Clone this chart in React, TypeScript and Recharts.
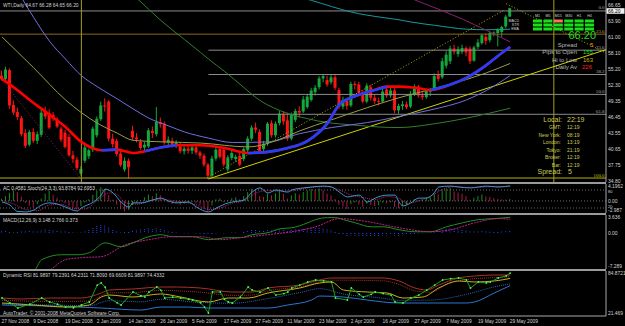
import React from 'react'
import { ComposedChart, Bar, Line, XAxis, YAxis, ReferenceLine } from 'recharts'

const FONT = '"Liberation Sans", Arial, sans-serif'
const TEXT = '#d4d4d4'
const AXIS = '#a8a8a8'
const PAD = 4
const X_DOMAIN: [number, number] = [-0.5, 152.14]

// bottom axis labels, one every 8 daily bars
const dateLabels = ['27 Nov 2008', '9 Dec 2008', '19 Dec 2008', '2 Jan 2009', '14 Jan 2009', '26 Jan 2009', '5 Feb 2009', '17 Feb 2009', '27 Feb 2009', '11 Mar 2009', '23 Mar 2009', '2 Apr 2009', '16 Apr 2009', '27 Apr 2009', '7 May 2009', '19 May 2009', '29 May 2009']

const opens = [
  54.0, 53.4, 55.0, 48.7, 47.4, 46.3, 43.6, 41.5, 43.8, 42.2,
  43.3, 47.4, 47.2, 46.9, 46.1, 44.4, 43.7, 42.9, 39.6, 38.8,
  36.3, 38.6, 39.4, 40.6, 43.2, 46.1, 48.6, 49.3, 42.6, 42.2,
  39.9, 37.0, 38.6, 44.0, 42.8, 42.0, 41.0, 41.2, 44.0, 43.4,
  45.6, 45.3, 41.9, 42.2, 41.5, 41.2, 40.3, 40.8, 40.4, 41.0,
  40.1, 39.5, 37.9, 35.9, 39.0, 40.7, 40.6, 37.0, 39.1, 38.9,
  39.5, 38.9, 40.5, 42.6, 44.6, 43.8, 40.7, 41.7, 45.4, 43.2,
  45.4, 47.1, 45.9, 42.6, 46.0, 47.6, 47.5, 48.3, 49.6, 51.0,
  51.9, 53.5, 53.2, 52.8, 53.7, 51.4, 48.4, 49.5, 48.6, 52.5,
  52.4, 50.9, 49.3, 51.9, 50.0, 49.4, 49.3, 51.5, 50.4, 51.3,
  47.7, 48.5, 48.8, 48.4, 50.6, 52.0, 50.4, 50.1, 51.2, 51.5,
  54.1, 53.7, 55.8, 56.6, 58.9, 57.9, 58.3, 59.0, 58.9, 56.7,
  59.2, 59.9, 61.0, 60.4, 61.6, 61.7, 61.9, 62.9, 64.67,
]
const highs = [
  54.9, 55.6, 55.3, 49.5, 48.2, 46.7, 44.3, 44.2, 44.5, 43.9,
  48.0, 48.4, 47.9, 47.4, 46.5, 44.8, 44.2, 43.4, 40.4, 39.3,
  37.6, 41.5, 40.8, 44.8, 46.6, 49.3, 49.9, 49.6, 43.5, 42.6,
  40.4, 39.2, 39.0, 44.9, 43.6, 42.5, 42.0, 44.5, 44.8, 48.3,
  46.4, 45.7, 43.0, 42.8, 42.3, 41.9, 41.2, 41.4, 41.5, 41.4,
  40.4, 39.9, 38.2, 39.5, 41.3, 41.2, 41.0, 39.6, 40.4, 39.7,
  40.0, 41.0, 43.0, 45.0, 45.5, 44.3, 42.2, 45.6, 45.9, 45.7,
  47.6, 47.5, 47.3, 47.3, 48.0, 48.5, 50.3, 50.7, 51.8, 52.3,
  53.9, 54.3, 54.0, 54.2, 54.3, 51.8, 50.2, 49.9, 52.9, 53.0,
  52.9, 51.4, 52.6, 52.4, 50.6, 50.0, 51.6, 52.2, 51.9, 51.7,
  48.9, 49.4, 49.3, 51.2, 52.4, 52.3, 51.0, 51.5, 51.8, 54.4,
  54.9, 57.2, 58.4, 59.4, 59.6, 59.3, 59.6, 59.3, 59.3, 59.4,
  60.6, 61.6, 61.7, 62.0, 62.0, 62.6, 63.0, 65.0, 66.28,
]
const lows = [
  53.1, 53.0, 48.0, 46.9, 46.0, 43.0, 40.9, 41.2, 41.8, 41.6,
  42.9, 46.1, 44.3, 45.8, 44.5, 42.0, 40.8, 39.3, 38.2, 36.9,
  35.9, 38.2, 38.9, 40.2, 42.8, 45.8, 47.5, 42.1, 41.0, 39.4,
  37.5, 36.6, 35.4, 42.4, 41.9, 40.6, 40.2, 40.9, 42.7, 43.0,
  44.6, 41.5, 41.2, 41.0, 40.9, 39.9, 39.7, 39.9, 39.8, 39.7,
  38.9, 37.5, 35.3, 35.6, 38.6, 39.0, 37.5, 36.6, 38.7, 38.4,
  37.6, 38.5, 40.2, 42.2, 43.6, 39.9, 40.2, 41.3, 42.8, 42.8,
  45.0, 45.1, 42.2, 42.3, 45.6, 46.4, 47.2, 48.0, 49.3, 50.4,
  51.5, 52.8, 52.0, 52.4, 51.4, 48.0, 47.9, 47.8, 48.3, 51.5,
  50.3, 49.0, 49.0, 49.5, 48.9, 48.6, 49.0, 50.0, 50.0, 47.2,
  47.1, 47.8, 47.9, 48.1, 50.3, 50.0, 49.6, 49.8, 50.3, 51.2,
  52.9, 53.4, 55.3, 56.1, 57.8, 57.4, 57.9, 57.5, 56.1, 56.5,
  58.8, 59.6, 59.6, 60.0, 61.1, 59.3, 61.0, 62.6, 64.65,
]
const closes = [
  53.4, 55.1, 48.6, 47.3, 46.5, 43.4, 41.3, 43.8, 42.2, 43.4,
  47.3, 46.6, 44.6, 46.2, 44.8, 42.4, 41.1, 39.6, 38.9, 37.3,
  37.1, 41.0, 40.5, 44.4, 46.2, 48.6, 48.4, 42.6, 41.6, 39.8,
  37.8, 38.6, 37.4, 42.8, 42.5, 40.9, 41.5, 44.1, 43.6, 45.6,
  45.2, 41.9, 42.4, 41.5, 41.8, 40.3, 40.8, 40.4, 41.0, 40.1,
  39.5, 37.9, 35.9, 39.0, 40.6, 39.3, 37.9, 39.2, 40.0, 39.3,
  37.9, 40.7, 42.6, 44.6, 44.2, 40.3, 41.7, 45.3, 43.2, 45.3,
  47.1, 45.7, 42.6, 46.9, 47.6, 47.3, 49.7, 50.2, 51.3, 51.8,
  53.5, 53.9, 52.4, 53.7, 51.8, 48.4, 49.6, 48.5, 52.5, 52.3,
  50.9, 49.3, 52.2, 50.0, 49.4, 49.3, 51.1, 50.4, 51.3, 47.7,
  48.5, 48.8, 48.3, 50.7, 52.0, 50.4, 50.1, 51.2, 51.3, 53.9,
  53.4, 56.6, 57.8, 58.9, 58.3, 58.8, 59.0, 58.2, 56.6, 59.1,
  60.0, 61.3, 60.3, 61.7, 61.8, 62.3, 62.8, 64.67, 66.2,
]

const priceTicks = [66.65, 63.9, 61.0, 58.1, 55.2, 52.3, 49.35, 46.45, 43.55, 40.65, 37.75, 34.8]
const lastPrice = 66.2

// moving averages as [bar, price]
const redMa = [[0, 53.4], [4, 51.3], [7, 49.6], [12, 46.9], [16, 44.7], [20, 42.0], [25, 40.5], [29, 40.6], [33, 40.0], [36, 40.3], [40, 41.0], [44, 41.4], [50, 41.4], [56, 40.9], [62, 40.0], [67, 40.2], [72, 40.9], [77, 42.2], [82, 45.4], [85, 48.8], [89, 50.3], [93, 51.2], [97, 52.0], [100, 52.0], [104, 51.8], [108, 51.4], [113, 52.4], [117, 53.6], [122, 55.9], [125, 57.6], [128, 59.2]]
const maRising = [[25, 29], [36, 44], [62, 97], [108, 128]]
const khakiMa = [[0, 61.0], [8, 55.4], [16, 49.6], [24, 45.4], [29, 43.6], [33, 42.3], [41, 42.0], [50, 41.8], [62, 41.1], [70, 42.5], [75, 44.0], [83, 46.0], [92, 48.2], [100, 50.0], [108, 51.5], [117, 53.3], [122, 54.5], [128, 56.2]]
const slateMa = [[5, 68.0], [8, 64.5], [12, 60.2], [16, 57.0], [20, 54.0], [24, 52.0], [29, 49.8], [33, 48.0], [37, 46.3], [42, 44.9], [46, 43.8], [52, 42.7], [58, 41.9], [67, 42.0], [75, 43.5], [83, 44.6], [92, 45.5], [100, 46.6], [108, 47.8], [117, 49.6], [122, 51.3], [128, 54.0]]
const greenMa = [[34, 68.0], [40, 64.0], [46, 60.5], [50, 58.2], [52, 57.0], [56, 54.8], [61, 51.8], [64, 50.0], [71, 47.4], [77, 46.2], [82, 45.5], [88, 45.1], [95, 44.7], [100, 44.6], [109, 45.3], [117, 46.3], [128, 48.1]]
const tealMa = [[76, 68.0], [78, 67.6], [83, 66.5], [88, 65.5], [95, 64.6], [100, 64.1], [103, 63.7], [109, 63.1], [117, 62.4], [122, 62.3], [128, 62.4]]
const plumMa = [[103, 68.0], [105, 67.4], [110, 66.0], [116, 64.2], [122, 62.2], [128, 60.1]]

// drawn objects: [bar, price, bar, price]
const supportLine = [52, 35.3, 152.14, 58.7]
const fastLine = [51.7, 35.5, 126.6, 65.9]
const topLine = [127, 67.0, 152.14, 58.1]
const fallLine = [0, 53.2, 19.7, 35.5]
const fibAnchor = 52
const fibLevels = [65.7, 58.6, 54.2, 50.6, 47.0, 35.47]
const fibNames = ['0.0', '23.6', '38.2', '50.0', '61.8', '100.0']
const goldLevel = 61.5
const goldName = '23.6'
const markerBars = [20, 139]

// AC + Stochastic
const acValues = [
  0.5, 1.2, 2.0, 2.6, 2.2, 1.0, -0.5, -1.2, -1.6, -0.8,
  0.6, 1.8, 2.5, 1.5, 0.8, 0.2, -0.6, -1.2, -1.7, -1.9,
  -1.3, -0.4, 0.4, 1.5, 2.5, 3.4, 3.0, 1.5, 0.3, -0.9,
  -2.0, -2.6, -2.2, -1.0, -0.4, 0.2, 0.9, 1.6, 1.2, 1.9,
  1.4, 0.4, -0.3, -0.8, -0.5, -1.0, -0.7, -0.5, -0.2, -0.6,
  -1.0, -1.6, -2.4, -1.1, 0.4, 0.6, -0.3, 0.2, 0.7, 0.9,
  0.4, 1.2, 2.2, 3.0, 2.7, 1.2, 1.0, 1.8, 1.4, 1.9,
  2.5, 1.8, 0.6, 1.4, 1.9, 1.6, 2.2, 2.6, 2.9, 2.7,
  3.1, 2.6, 1.8, 1.4, 0.5, -0.9, -1.4, -2.0, -0.8, -0.4,
  -0.9, -1.5, -0.7, -1.0, -1.3, -1.1, -0.4, -0.6, -0.3, -1.5,
  -1.8, -1.2, -1.0, -0.2, 0.5, 0.2, 0.3, 0.8, 0.9, 1.8,
  1.6, 2.6, 3.0, 3.2, 2.4, 2.1, 1.8, 1.2, 0.3, 0.8,
  1.2, 1.6, 1.1, 1.0, 0.7, 0.5, 0.4, 0.35, 0.4581,
]
const stochMain = [[0, 40], [2, 30], [4, 8], [6, 7], [8, 13], [10, 30], [12, 37], [14, 33], [16, 23], [19, 10], [20, 20], [23, 40], [25, 63], [26, 83], [28, 70], [30, 40], [32, 23], [33, 37], [35, 37], [38, 47], [40, 53], [42, 43], [44, 37], [47, 40], [49, 23], [52, 7], [54, 20], [57, 37], [58, 40], [61, 47], [63, 73], [65, 87], [67, 70], [69, 80], [72, 73], [73, 80], [76, 87], [78, 90], [81, 93], [83, 90], [85, 73], [87, 57], [90, 63], [92, 40], [94, 53], [97, 63], [99, 63], [100, 40], [101, 27], [103, 37], [105, 53], [107, 53], [109, 73], [110, 90], [113, 93], [115, 90], [118, 87], [120, 90], [122, 93], [125, 90], [128, 93.88]]
const stochSignal = [[0, 45], [3, 33], [6, 15], [9, 11], [12, 30], [15, 32], [18, 18], [21, 17], [24, 45], [27, 70], [29, 65], [31, 38], [34, 33], [37, 42], [40, 50], [43, 44], [46, 39], [49, 30], [52, 15], [55, 20], [58, 36], [61, 45], [64, 70], [67, 78], [70, 76], [73, 77], [76, 85], [79, 90], [82, 91], [85, 80], [88, 63], [91, 55], [94, 48], [97, 58], [100, 52], [102, 36], [105, 44], [108, 60], [111, 82], [114, 91], [117, 89], [120, 89], [123, 91], [126, 91], [128, 92.7]]

// MACD
const macdMain = [[0, -9.6], [4, -8.9], [8, -7.8], [10, -5.4], [15, -4.4], [19, -4.4], [22, -4.0], [26, -2.0], [30, -2.8], [33, -2.0], [36, -1.0], [40, -0.35], [43, -0.75], [48, -0.75], [52, -1.35], [57, -0.95], [60, -0.95], [63, -0.35], [67, 0.05], [70, 0.85], [73, 1.05], [77, 2.05], [79, 2.7], [82, 3.1], [84, 3.1], [86, 2.7], [89, 2.05], [93, 1.25], [96, 1.25], [100, 0.65], [104, 0.25], [108, 0.25], [112, 1.25], [116, 2.05], [120, 2.7], [124, 2.9], [128, 3.148]]
const macdSignal = [[0, -10.5], [8, -8.8], [12, -7.5], [16, -5.4], [20, -5.0], [25, -4.8], [31, -2.4], [37, -1.35], [43, -0.75], [50, -0.75], [55, -1.35], [60, -0.95], [67, -0.35], [73, 0.25], [79, 1.25], [85, 2.9], [92, 2.3], [100, 1.05], [108, 0.25], [113, 0.65], [119, 2.05], [125, 2.9], [128, 2.766]]
const osmaValues = [
  0.3, 0.4, 0.2, 0.1, 0.2, 0.3, 0.3, 0.4, 0.3, 0.3,
  0.5, 0.7, 0.6, 0.5, 0.4, 0.3, 0.3, 0.2, 0.1, 0.05,
  0.1, 0.3, 0.6, 1.0, 1.4, 1.6, 1.5, 1.1, 0.6, 0.3,
  0.1, 0.2, 0.2, 0.4, 0.5, 0.7, 0.8, 0.9, 0.8, 0.9,
  0.8, 0.5, 0.3, 0.2, 0.1, 0.0, -0.1, -0.1, 0.0, -0.1,
  -0.2, -0.3, -0.4, -0.3, -0.1, 0.0, -0.1, 0.0, 0.1, 0.1,
  0.0, 0.2, 0.4, 0.6, 0.6, 0.4, 0.4, 0.6, 0.5, 0.6,
  0.7, 0.6, 0.4, 0.6, 0.7, 0.7, 0.8, 0.9, 1.0, 1.0,
  1.0, 0.9, 0.7, 0.5, 0.2, -0.2, -0.4, -0.6, -0.5, -0.5,
  -0.6, -0.7, -0.6, -0.6, -0.7, -0.6, -0.5, -0.5, -0.4, -0.5,
  -0.6, -0.5, -0.4, -0.3, -0.2, -0.1, -0.1, 0.0, 0.1, 0.3,
  0.4, 0.6, 0.8, 0.9, 0.8, 0.7, 0.6, 0.5, 0.3, 0.3,
  0.3, 0.35, 0.3, 0.25, 0.2, 0.2, 0.3, 0.35, 0.373,
]

// Dynamic RSI
const rsiUpper = [[0, 46.8], [5, 45.4], [12, 46.8], [20, 46.8], [25, 53.9], [27, 58.1], [33, 59.5], [40, 62.3], [44, 62.3], [50, 60.9], [58, 55.3], [63, 55.3], [67, 60.9], [75, 65.1], [80, 72.2], [83, 75.0], [96, 75.0], [100, 70.8], [104, 60.9], [107, 58.1], [110, 65.1], [115, 75.0], [119, 77.8], [124, 79.2], [128, 79.24]]
const rsiUpperDot = [[0, 43.5], [12, 42.0], [22, 42.5], [27, 54.0], [33, 54.5], [40, 57.5], [50, 55.0], [58, 50.5], [63, 51.0], [67, 57.0], [75, 62.5], [83, 72.0], [96, 71.0], [100, 66.0], [104, 57.0], [108, 55.0], [112, 66.0], [118, 73.5], [124, 75.5], [128, 76.8]]
const rsiMid = [[0, 39.8], [8, 37.0], [16, 34.1], [22, 37.0], [25, 48.2], [27, 51.0], [33, 48.2], [40, 52.5], [45, 48.2], [52, 41.2], [57, 46.8], [62, 46.8], [67, 53.9], [75, 60.9], [80, 68.0], [83, 69.4], [86, 58.1], [92, 55.3], [97, 53.9], [101, 46.8], [106, 48.2], [110, 60.9], [115, 70.8], [119, 69.4], [124, 70.8], [128, 74.43]]
const rsiLowerDot = [[0, 38.5], [12, 37.0], [22, 36.0], [27, 43.0], [35, 41.5], [40, 45.0], [50, 40.5], [58, 39.5], [67, 46.0], [75, 54.5], [80, 60.0], [86, 52.5], [96, 46.5], [100, 43.5], [108, 44.0], [117, 52.0], [124, 62.5], [128, 66.7]]
const rsiLower = [[0, 37.0], [12, 35.5], [25, 32.7], [35, 29.9], [40, 34.1], [47, 34.1], [52, 32.7], [58, 32.7], [67, 32.7], [72, 37.0], [78, 44.0], [80, 49.6], [86, 48.2], [92, 44.0], [96, 41.2], [100, 39.8], [109, 39.8], [117, 39.8], [119, 41.2], [124, 53.9], [128, 64.23]]
const rsiLine = [[0, 46.8], [2, 39.8], [4, 32.7], [7, 38.0], [10, 46.8], [12, 41.2], [14, 38.0], [16, 34.1], [18, 33.0], [20, 37.0], [22, 41.2], [24, 65.1], [25, 68.0], [26, 62.0], [27, 46.8], [29, 40.0], [30, 37.0], [33, 55.3], [35, 50.0], [36, 48.2], [37, 55.0], [39, 62.3], [40, 58.0], [41, 46.8], [43, 48.0], [45, 46.8], [47, 45.0], [48, 44.0], [50, 40.0], [51, 34.1], [52, 25.7], [53, 55.3], [55, 55.3], [56, 45.0], [57, 41.2], [58, 39.8], [60, 48.0], [62, 62.3], [63, 58.1], [65, 55.0], [67, 60.9], [69, 51.0], [71, 53.0], [72, 55.3], [73, 60.9], [75, 65.0], [77, 69.4], [79, 72.2], [81, 71.0], [83, 69.4], [84, 46.8], [87, 44.0], [88, 60.9], [90, 52.0], [91, 48.2], [93, 52.0], [94, 55.3], [96, 53.0], [98, 51.0], [99, 41.2], [101, 39.8], [103, 46.8], [105, 51.0], [107, 58.0], [109, 65.1], [111, 72.2], [113, 74.0], [115, 75.0], [117, 72.2], [118, 60.9], [120, 69.4], [122, 68.0], [123, 69.4], [125, 75.0], [127, 78.0], [128, 81.99]]

const acTicks = [4.1962, 0, -2.987]
const acTickText = ['4.1962', '0.00', '-2.987']
const macdTicks = [3.636, 0, -7.289]
const macdTickText = ['3.636', '0.00', '-7.289']
const rsiTicks = [84.8721, 21.469]
const rsiTickText = ['84.8721', '21.469']

const pts = (a: number[][]) => a.map(([i, v]) => ({ i, v }))

const candles = closes.map((c, i) => ({ i, o: opens[i], h: highs[i], l: lows[i], c, range: [lows[i], highs[i]] }))
const acData = acValues.map((v, i) => ({ i, ac: v, up: i === 0 || v >= acValues[i - 1] }))
const osmaData = osmaValues.map((v, i) => ({ i, osma: v }))
const dateTicks = dateLabels.map((_, k) => k * 8)

function Candle(props: any) {
  const { x, y, width, height, payload } = props
  if (!payload) return null
  const top = Math.min(y, y + height)
  const span = Math.abs(height)
  const rng = payload.h - payload.l || 1
  const py = (v: number) => top + ((payload.h - v) / rng) * span
  const up = payload.c >= payload.o
  const col = up ? '#14a83c' : '#ff1414'
  const bTop = py(Math.max(payload.o, payload.c))
  const bBot = py(Math.min(payload.o, payload.c))
  const cx = x + width / 2
  return (
    <g>
      <line x1={cx} x2={cx} y1={top} y2={top + span} stroke={col} strokeWidth={1} />
      <rect x={x} y={bTop} width={width} height={Math.max(1, bBot - bTop)} fill={col} />
    </g>
  )
}

function AcBar(props: any) {
  const { x, y, width, height, payload } = props
  const top = Math.min(y, y + height)
  return <rect x={x + width / 2 - 0.5} y={top} width={1} height={Math.abs(height)} fill={payload.up ? '#1a8a1a' : '#a81c44'} />
}

function OsmaBar(props: any) {
  const { x, y, width, height } = props
  const top = Math.min(y, y + height)
  const cx = x + width / 2
  return <line x1={cx} x2={cx} y1={top} y2={top + Math.abs(height)} stroke="#2848ff" strokeDasharray="1 1" />
}

function PriceTick(props: any) {
  const { x, y, payload } = props
  const v = payload.value
  if (v === lastPrice) {
    // the terminal hangs the bid box just under its price
    return (
      <g>
        <rect x={x - 1.5} y={y} width={18} height={5.6} fill="#f0f0f0" />
        <text x={x} y={y + 2.8} dy="0.35em" fontSize={5} fill="#000" fontFamily={FONT}>{v.toFixed(2)}</text>
      </g>
    )
  }
  return <text x={x} y={y} dy="0.35em" fontSize={5} fill={TEXT} fontFamily={FONT}>{v.toFixed(2)}</text>
}

function makeTick(h: number, ticks: number[], names: string[]) {
  return (props: any) => {
    const { x, y, payload } = props
    const cy = Math.min(Math.max(y, PAD + 2.7), PAD + h - 2.4)
    return <text x={x} y={cy} dy="0.35em" fontSize={4.9} fill={TEXT} fontFamily={FONT}>{names[ticks.indexOf(payload.value)]}</text>
  }
}

function DateTick(props: any) {
  const { x, y, payload } = props
  return (
    <text x={x - 0.5} y={y + 5.5} dy="0.35em" fontSize={4.9} fill={TEXT} fontFamily={FONT}>
      {dateLabels[Math.round(payload.value / 8)]}
    </text>
  )
}

const MAIN = { top: 0, h: 182 }
const AC = { top: 184, h: 29 }
const MACD = { top: 215, h: 54 }
const RSI = { top: 271, h: 45 }

const lineProps = { dataKey: 'v', dot: false, activeDot: false, isAnimationActive: false, type: 'monotone' as const }

function Txt({ x, y, s, c = TEXT, size = 4.9, anchor = 'start' }: any) {
  return <text x={x} y={y} dy="0.35em" fontSize={size} fill={c} textAnchor={anchor} fontFamily={FONT}>{s}</text>
}

const clockRows = [['GMT:', '12:19', 127.7], ['New York:', '08:19', 135], ['London:', '13:19', 142.7], ['Tokyo:', '21:19', 150], ['Broker:', '12:19', 157.7], ['Bar:', '12:19', 165]]
const gridCols = ['M1', 'M5', 'M15', 'M30', 'H1', 'H4']
const gridRows = ['MACD', 'STR', 'EMA']

export default function App() {
  const sideAxis = { orientation: 'right' as const, width: 19, allowDataOverflow: true, axisLine: { stroke: AXIS }, tickLine: false, tickSize: 0, tickMargin: 2, interval: 0 as const }
  const hiddenX = <XAxis dataKey="i" type="number" domain={X_DOMAIN} hide allowDataOverflow />
  const margin = { top: PAD, right: 0, bottom: PAD, left: 0 }
  return (
    <div style={{ position: 'fixed', left: 0, top: 0, width: 625, height: 326, background: '#000', overflow: 'hidden' }}>
      {/* price pane */}
      <div style={{ position: 'absolute', left: 0, top: MAIN.top - PAD }}>
        <ComposedChart width={625} height={MAIN.h + 2 * PAD} data={candles} margin={margin}>
          {hiddenX}
          <YAxis {...sideAxis} domain={[34.75, 67.68]} ticks={[...priceTicks, lastPrice]} tick={<PriceTick />} />
          <ReferenceLine y={fibLevels[0]} stroke="#8c8c8c" label={{ value: fibNames[0], position: 'insideBottomRight', fill: '#b0b0b0', fontSize: 4.9, offset: 1.5 }} />
          <ReferenceLine y={goldLevel} stroke="#8b6a1a" label={{ value: goldName, position: 'insideBottomRight', fill: '#c8a040', fontSize: 4.9, offset: 1.5 }} />
          {fibLevels.slice(1, 5).map((p, k) => (
            <ReferenceLine key={k} ifOverflow="hidden" segment={[{ x: fibAnchor, y: p }, { x: X_DOMAIN[1], y: p }]} stroke="#8c8c8c"
              label={{ value: fibNames[k + 1], position: 'insideBottomRight', fill: '#b0b0b0', fontSize: 4.9, offset: 1.5 }} />
          ))}
          <ReferenceLine y={fibLevels[5]} stroke="#b4b400" label={{ value: fibNames[5], position: 'insideBottomRight', fill: '#c8c800', fontSize: 4.9, offset: 1.5 }} />
          {markerBars.map((b) => <ReferenceLine key={b} x={b} stroke="#a0a020" />)}
          <ReferenceLine ifOverflow="hidden" segment={[{ x: supportLine[0], y: supportLine[1] }, { x: supportLine[2], y: supportLine[3] }]} stroke="#d0d000" />
          <ReferenceLine ifOverflow="hidden" segment={[{ x: fastLine[0], y: fastLine[1] }, { x: fastLine[2], y: fastLine[3] }]} stroke="#b0b000" strokeDasharray="1 2" />
          <ReferenceLine ifOverflow="hidden" segment={[{ x: topLine[0], y: topLine[1] }, { x: topLine[2], y: topLine[3] }]} stroke="#b0b000" strokeDasharray="1 2" />
          <ReferenceLine ifOverflow="hidden" segment={[{ x: fallLine[0], y: fallLine[1] }, { x: fallLine[2], y: fallLine[3] }]} stroke="#902070" strokeDasharray="1 2" />
          <Line {...lineProps} data={pts(greenMa)} stroke="#2f7f2f" strokeWidth={1} />
          <Line {...lineProps} data={pts(tealMa)} stroke="#1a9a9a" strokeWidth={1} />
          <Line {...lineProps} data={pts(plumMa)} stroke="#902070" strokeWidth={1} />
          <Line {...lineProps} data={pts(slateMa)} stroke="#7070e0" strokeWidth={1} />
          <Line {...lineProps} data={pts(khakiMa)} stroke="#9b9b45" strokeWidth={1} />
          <Bar dataKey="range" barSize={3} shape={<Candle />} isAnimationActive={false} />
          <Line {...lineProps} data={pts(redMa)} stroke="#ff0000" strokeWidth={2.6} />
          {maRising.map(([a, b]) => (
            <Line key={a} {...lineProps} data={pts(redMa.filter(([i]) => i >= a && i <= b))} stroke="#2040ff" strokeWidth={2.6} />
          ))}
        </ComposedChart>
      </div>

      {/* AC + stochastic pane */}
      <div style={{ position: 'absolute', left: 0, top: AC.top - PAD }}>
        <ComposedChart width={625} height={AC.h + 2 * PAD} data={acData} margin={margin}>
          {hiddenX}
          <YAxis yAxisId="ac" {...sideAxis} domain={[-2.987, 4.1962]} ticks={acTicks} tick={makeTick(AC.h, acTicks, acTickText)} />
          <YAxis yAxisId="st" hide domain={[3.3, 100]} allowDataOverflow />
          <ReferenceLine yAxisId="st" y={80} stroke="#6c6c6c" strokeDasharray="1 2" />
          <ReferenceLine yAxisId="ac" y={0} stroke="#6c6c6c" strokeDasharray="1 2" />
          <ReferenceLine yAxisId="st" y={20} stroke="#6c6c6c" strokeDasharray="1 2" />
          <Bar yAxisId="ac" dataKey="ac" barSize={1} shape={<AcBar />} isAnimationActive={false} />
          <Line yAxisId="st" {...lineProps} data={pts(stochSignal)} stroke="#c02070" strokeDasharray="1 1" strokeWidth={1} />
          <Line yAxisId="st" {...lineProps} data={pts(stochMain)} stroke="#3c96d2" strokeWidth={1} />
        </ComposedChart>
      </div>

      {/* MACD pane */}
      <div style={{ position: 'absolute', left: 0, top: MACD.top - PAD }}>
        <ComposedChart width={625} height={MACD.h + 2 * PAD} data={osmaData} margin={margin}>
          {hiddenX}
          <YAxis {...sideAxis} domain={[-7.289, 3.636]} ticks={macdTicks} tick={makeTick(MACD.h, macdTicks, macdTickText)} />
          <Bar dataKey="osma" barSize={1} shape={<OsmaBar />} isAnimationActive={false} />
          <Line {...lineProps} data={pts(macdMain)} stroke="#1f8f1f" strokeWidth={1} />
          <Line {...lineProps} data={pts(macdSignal)} stroke="#c0208c" strokeDasharray="2 1" strokeWidth={1} />
        </ComposedChart>
      </div>

      {/* Dynamic RSI pane + date axis */}
      <div style={{ position: 'absolute', left: 0, top: RSI.top - PAD }}>
        <ComposedChart width={625} height={RSI.h + PAD + 10} data={candles} margin={{ top: PAD, right: 0, bottom: 0, left: 0 }}>
          <XAxis dataKey="i" type="number" domain={X_DOMAIN} allowDataOverflow ticks={dateTicks} interval={0} height={10}
            tick={<DateTick />} tickLine={false} tickSize={0} tickMargin={0} axisLine={{ stroke: AXIS }} />
          <YAxis {...sideAxis} domain={[21.469, 84.8721]} ticks={rsiTicks} tick={makeTick(RSI.h, rsiTicks, rsiTickText)} />
          <Line {...lineProps} data={pts(rsiUpper)} stroke="#a8322a" strokeWidth={1} />
          <Line {...lineProps} data={pts(rsiUpperDot)} stroke="#a8322a" strokeDasharray="1 1" strokeWidth={1} />
          <Line {...lineProps} data={pts(rsiLowerDot)} stroke="#2c64b4" strokeDasharray="1 1" strokeWidth={1} />
          <Line {...lineProps} data={pts(rsiLower)} stroke="#2a78d0" strokeWidth={1} />
          <Line {...lineProps} data={pts(rsiMid)} stroke="#c8b020" strokeWidth={1} />
          <Line {...lineProps} type="linear" data={pts(rsiLine)} stroke="#1ea01e" strokeWidth={1}
            dot={{ r: 0.9, fill: '#50ff50', stroke: 'none' }} />
        </ComposedChart>
      </div>

      {/* pane separators */}
      {[182, 213, 269].map((y) => (
        <div key={y} style={{ position: 'absolute', left: 0, top: y, width: 606, height: 2, background: '#9a9a9a' }} />
      ))}

      {/* texts drawn by the terminal */}
      <svg width={625} height={326} style={{ position: 'absolute', left: 0, top: 0, pointerEvents: 'none' }}>
        <Txt x={3} y={5.5} s="WTI,Daily  64.67 66.28 64.65 66.20" />
        <Txt x={3} y={188.3} s="AC 0.4581  Stoch(24,3,3) 93.8784 92.6953" />
        <Txt x={3} y={220} s="MACD(12,26,9) 3.148 2.766 0.373" />
        <Txt x={3} y={275.5} s="Dynamic RSI 81.9897 79.2391 64.2311 71.8093 69.6609 81.9897 74.4332" />
        <Txt x={3} y={313.5} s="AutoTrader, © 2001-2008 MetaQuotes Software Corp." />
        <Txt x={608} y={191.6} s="80" size={4} />
        <Txt x={608} y={206.2} s="20" size={4} />

        {gridCols.map((c, k) => <Txt key={c} x={537.5 + k * 10.4} y={16} s={c} size={3.6} anchor="middle" />)}
        {gridRows.map((r, k) => <Txt key={r} x={519} y={21 + k * 4} s={r} size={3.6} anchor="end" />)}
        {gridRows.map((r, k) => gridCols.map((c, j) => (
          <rect key={r + c} x={533 + j * 10.4} y={19.5 + k * 4} width={9} height={3} fill={k === 0 && j === 2 ? '#ff7060' : '#18e018'} />
        )))}

        <Txt x={596} y={35} s="66.20" size={11} c="#22dd22" anchor="end" />
        <Txt x={577} y={44.6} s="Spread" size={6} c="#b8b8b8" anchor="end" />
        <Txt x={590} y={44.6} s="5" size={6} c="#ff9a00" />
        <Txt x={577} y={52.3} s="Pips to Open" size={6} c="#b8b8b8" anchor="end" />
        <Txt x={583} y={52.3} s="155" size={6} c="#22dd22" />
        <Txt x={577} y={59.5} s="Hi to Low" size={6} c="#b8b8b8" anchor="end" />
        <Txt x={583} y={59.5} s="163" size={6} c="#d8b400" />
        <Txt x={577} y={66.7} s="Daily Av" size={6} c="#b8b8b8" anchor="end" />
        <Txt x={582} y={66.7} s="226" size={6} c="#ff2020" />

        <Txt x={562} y={119.3} s="Local:" size={7} c="#cccc55" anchor="end" />
        <Txt x={567} y={119.3} s="22:19" size={7} c="#cccc55" />
        {clockRows.map(([a, b, y]) => (
          <g key={a as string}>
            <Txt x={561} y={y} s={a} size={5} c="#cccc55" anchor="end" />
            <Txt x={567} y={y} s={b} size={5} c="#cccc55" />
          </g>
        ))}
        <Txt x={562} y={171.7} s="Spread:" size={7} c="#cccc55" anchor="end" />
        <Txt x={568} y={171.7} s="5" size={7} c="#cccc55" />
      </svg>
    </div>
  )
}
